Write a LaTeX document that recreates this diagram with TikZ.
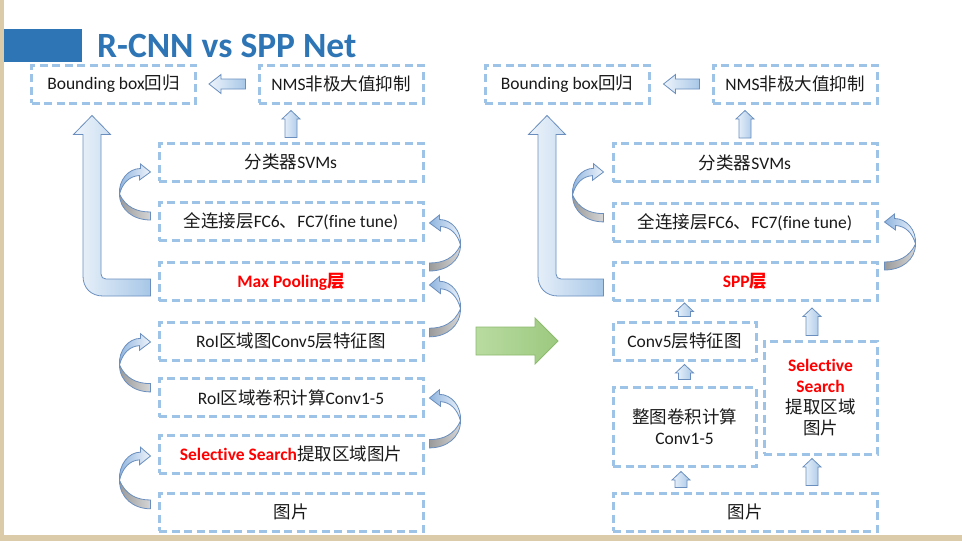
\documentclass[tikz,border=0pt]{standalone}
\usepackage{fontspec}
\setmainfont{Carlito}[Ligatures=NoCommon]
\newfontfamily\cjk{Noto Sans CJK SC}
\usetikzlibrary{calc}
\definecolor{titleblue}{HTML}{2E75B6}
\definecolor{boxblue}{HTML}{9DC3E6}
\definecolor{arrowline}{HTML}{6A8FBF}
\definecolor{arrowlight}{HTML}{EEF4FB}
\definecolor{arrowdark}{HTML}{A7C7E7}
\definecolor{curvdark}{HTML}{8FB4DE}
\definecolor{greyd}{HTML}{9A9A9A}
\definecolor{greyl}{HTML}{D6D6D6}
\definecolor{greenl}{HTML}{B9DBA1}
\definecolor{greend}{HTML}{9CC97F}
\definecolor{greenline}{HTML}{8DBA6E}
\definecolor{beige}{HTML}{DCCBA8}
\definecolor{redtxt}{HTML}{FF0000}
\definecolor{bodytxt}{HTML}{1A1A1A}
\newcommand\zh[1]{{\cjk #1}}
\tikzset{
  box/.style={draw=boxblue, line width=3pt, dash pattern=on 8pt off 4.5pt,
    minimum height=38pt, inner sep=0pt, align=center, text=bodytxt,
    font=\fontsize{17.5}{21}\selectfont},
  widebox/.style={box, minimum width=264pt},
  topbox/.style={box, minimum width=164pt},
  blk/.style={draw=arrowline, line width=0.8pt, left color=arrowlight, right color=arrowdark},
  curvblk/.style={draw=arrowline, line width=0.8pt, left color=curvdark, right color=arrowlight},
  greyblk/.style={draw=arrowline, line width=0.8pt, left color=greyd, right color=greyl},
  greenblk/.style={draw=greenline, line width=0.8pt, left color=greenl, right color=greend}
}
% up block arrow: #1 base point, #2 tip point (y only)
\newcommand{\upblk}[2]{%
  \path[blk] let \p1=#1, \p2=#2 in
  (\x1-6pt,\y1) -- (\x1-6pt,\y2-8.5pt) -- (\x1-9pt,\y2-8.5pt) -- (\x1,\y2)
  -- (\x1+9pt,\y2-8.5pt) -- (\x1+6pt,\y2-8.5pt) -- (\x1+6pt,\y1) -- cycle;}
% left block arrow: #1 tail point, #2 tip point (x only)
\newcommand{\leftblk}[2]{%
  \path[blk] let \p1=#1, \p2=#2 in
  (\x1,\y1+5pt) -- (\x2+12pt,\y1+5pt) -- (\x2+12pt,\y1+9.5pt) -- (\x2,\y1)
  -- (\x2+12pt,\y1-9.5pt) -- (\x2+12pt,\y1-5pt) -- (\x1,\y1-5pt) -- cycle;}
% bent up arrow: #1 shaft centre (x), #2 tip (y), #3 end of horizontal leg
\newcommand{\Larrow}[3]{%
  \path[blk] let \p1=#1, \p2=#2, \p3=#3 in
  (\x1-9pt,\y2-19pt) -- (\x1-18.5pt,\y2-19pt) -- (\x1,\y2) -- (\x1+18.5pt,\y2-19pt)
  -- (\x1+9pt,\y2-19pt) -- (\x1+9pt,\y3+13.5pt)
  .. controls (\x1+9pt,\y3+10.5pt) and (\x1+11pt,\y3+8.5pt) .. (\x1+14pt,\y3+8.5pt)
  -- (\x3,\y3+8.5pt) -- (\x3,\y3-8.5pt) -- (\x1+11pt,\y3-8.5pt)
  .. controls (\x1-1pt,\y3-8.5pt) and (\x1-9pt,\y3-0.5pt) .. (\x1-9pt,\y3+11.5pt) -- cycle;}
% curved arrow: #1 tip, #2 xscale (1 = bulges left), #3 yscale
\newcommand{\curv}[3]{%
  \begin{scope}[shift={#1}, xscale=#2, yscale=#3]
  \path[greyblk] (-31,22) .. controls (-31,38) and (-17,48) .. (0,48) -- (0,40)
     .. controls (-14,40) and (-25,35) .. (-31,22) -- cycle;
  \path[curvblk] (-31,22) .. controls (-32,8) and (-22,-3.5) .. (-10,-3.5) -- (-10,-8)
     -- (0,0) -- (-11,8) -- (-11,3.5) .. controls (-21,4) and (-28,11) .. (-31,22) -- cycle;
  \end{scope}}
\begin{document}
\begin{tikzpicture}[x=1pt, y=-1pt]
\useasboundingbox (0,0) rectangle (962,541);
\fill[white] (0,0) rectangle (962,541);
\fill[beige] (0,0) rectangle (3.5,541);
\fill[beige] (0,535) rectangle (962,541);
% title
\fill[titleblue] (4,29) rectangle (82,62);
\node[anchor=base west, text=titleblue, inner sep=0pt,
  font=\fontsize{35.5}{36}\bfseries\selectfont] (title) at (97,57) {R-CNN vs SPP Net};

% ---------- left panel: R-CNN ----------
\node[topbox] (bb1) at (113.5,84) {Bounding box\zh{回归}};
\node[topbox] (nms1) at (341,84) {NMS\zh{非极大值抑制}};
\node[widebox] (svm1) at (291,162) {\zh{分类器}SVMs};
\node[widebox] (fc1) at (291,221.5) {\zh{全连接层}FC6\zh{、}FC7(fine tune)};
\node[widebox] (mp1) at (291,281.5) {\textcolor{redtxt}{\bfseries Max Pooling\zh{层}}};
\node[widebox] (cv1) at (291,341) {RoI\zh{区域图}Conv5\zh{层特征图}};
\node[widebox] (rc1) at (291,397.5) {RoI\zh{区域卷积计算}Conv1-5};
\node[widebox] (ss1) at (291,454) {\textcolor{redtxt}{\bfseries Selective Search}\zh{提取区域图片}};
\node[widebox] (pic1) at (291,512) {\zh{图片}};

\leftblk{($(nms1.west)+(-12,0)$)}{($(bb1.east)+(12,0)$)}
\upblk{($(svm1.north)+(0,-4)$)}{($(nms1.south)+(0,6)$)}
\Larrow{($(bb1.south west)+(62,0)$)}{($(bb1.south)+(0,11)$)}{($(mp1.west)+(-7,6)$)}

\curv{($(svm1.west)+(-7,10)$)}{1}{1}
\curv{($(cv1.west)+(-7,1)$)}{1}{1.04}
\curv{($(ss1.west)+(-7,2)$)}{1}{1.1}
\curv{($(fc1.east)+(5,1.5)$)}{-1}{1}
\curv{($(mp1.east)+(5,3.5)$)}{-1}{1.08}
\curv{($(rc1.east)+(5,0.5)$)}{-1}{1.04}

% ---------- transition arrow ----------
\path[greenblk] (476,327) -- (535,327) -- (535,318) -- (558,341) -- (535,364)
  -- (535,355) -- (476,355) -- cycle;

% ---------- right panel: SPP Net ----------
\node[topbox] (bb2) at (567,84) {Bounding box\zh{回归}};
\node[topbox] (nms2) at (795,84) {NMS\zh{非极大值抑制}};
\node[widebox] (svm2) at (745,162.5) {\zh{分类器}SVMs};
\node[widebox] (fc2) at (745,222) {\zh{全连接层}FC6\zh{、}FC7(fine tune)};
\node[widebox] (spp) at (745,281.5) {\textcolor{redtxt}{\bfseries SPP\zh{层}}};
\node[box, minimum width=143pt] (cv2) at (684.5,341) {Conv5\zh{层特征图}};
\node[box, minimum width=143pt, minimum height=79pt] (wc2) at (684.5,426.5)
  {\zh{整图卷积计算}\\Conv1-5};
\node[box, minimum width=113pt, minimum height=113pt] (ss2) at (820.5,397.5)
  {\textcolor{redtxt}{\bfseries Selective}\\\textcolor{redtxt}{\bfseries Search}\\\zh{提取区域}\\\zh{图片}};
\node[widebox] (pic2) at (745,512) {\zh{图片}};

\leftblk{($(nms2.west)+(-12,0)$)}{($(bb2.east)+(13,0)$)}
\upblk{($(svm2.north)+(0,-4)$)}{($(nms2.south)+(0,6)$)}
\Larrow{($(bb2.south west)+(63.5,0)$)}{($(bb2.south)+(0,11)$)}{($(spp.west)+(-8,6)$)}

\upblk{($(cv2.north)+(0,-4)$)}{($(spp.south)+(0,1)$)}
\upblk{($(wc2.north)+(0,-6)$)}{($(cv2.south)+(0,3)$)}
\upblk{($(pic2.north)+(-64,-4)$)}{($(wc2.south)+(0,4)$)}
\upblk{($(ss2.north)+(-8.5,-4)$)}{($(spp.south)+(0,6)$)}
\upblk{($(pic2.north)+(67,-6)$)}{($(ss2.south)+(0,3)$)}

\curv{($(svm2.west)+(-8,9.5)$)}{1}{1.04}
\curv{($(fc2.east)+(6,0)$)}{-1}{1}
\end{tikzpicture}
\end{document}
